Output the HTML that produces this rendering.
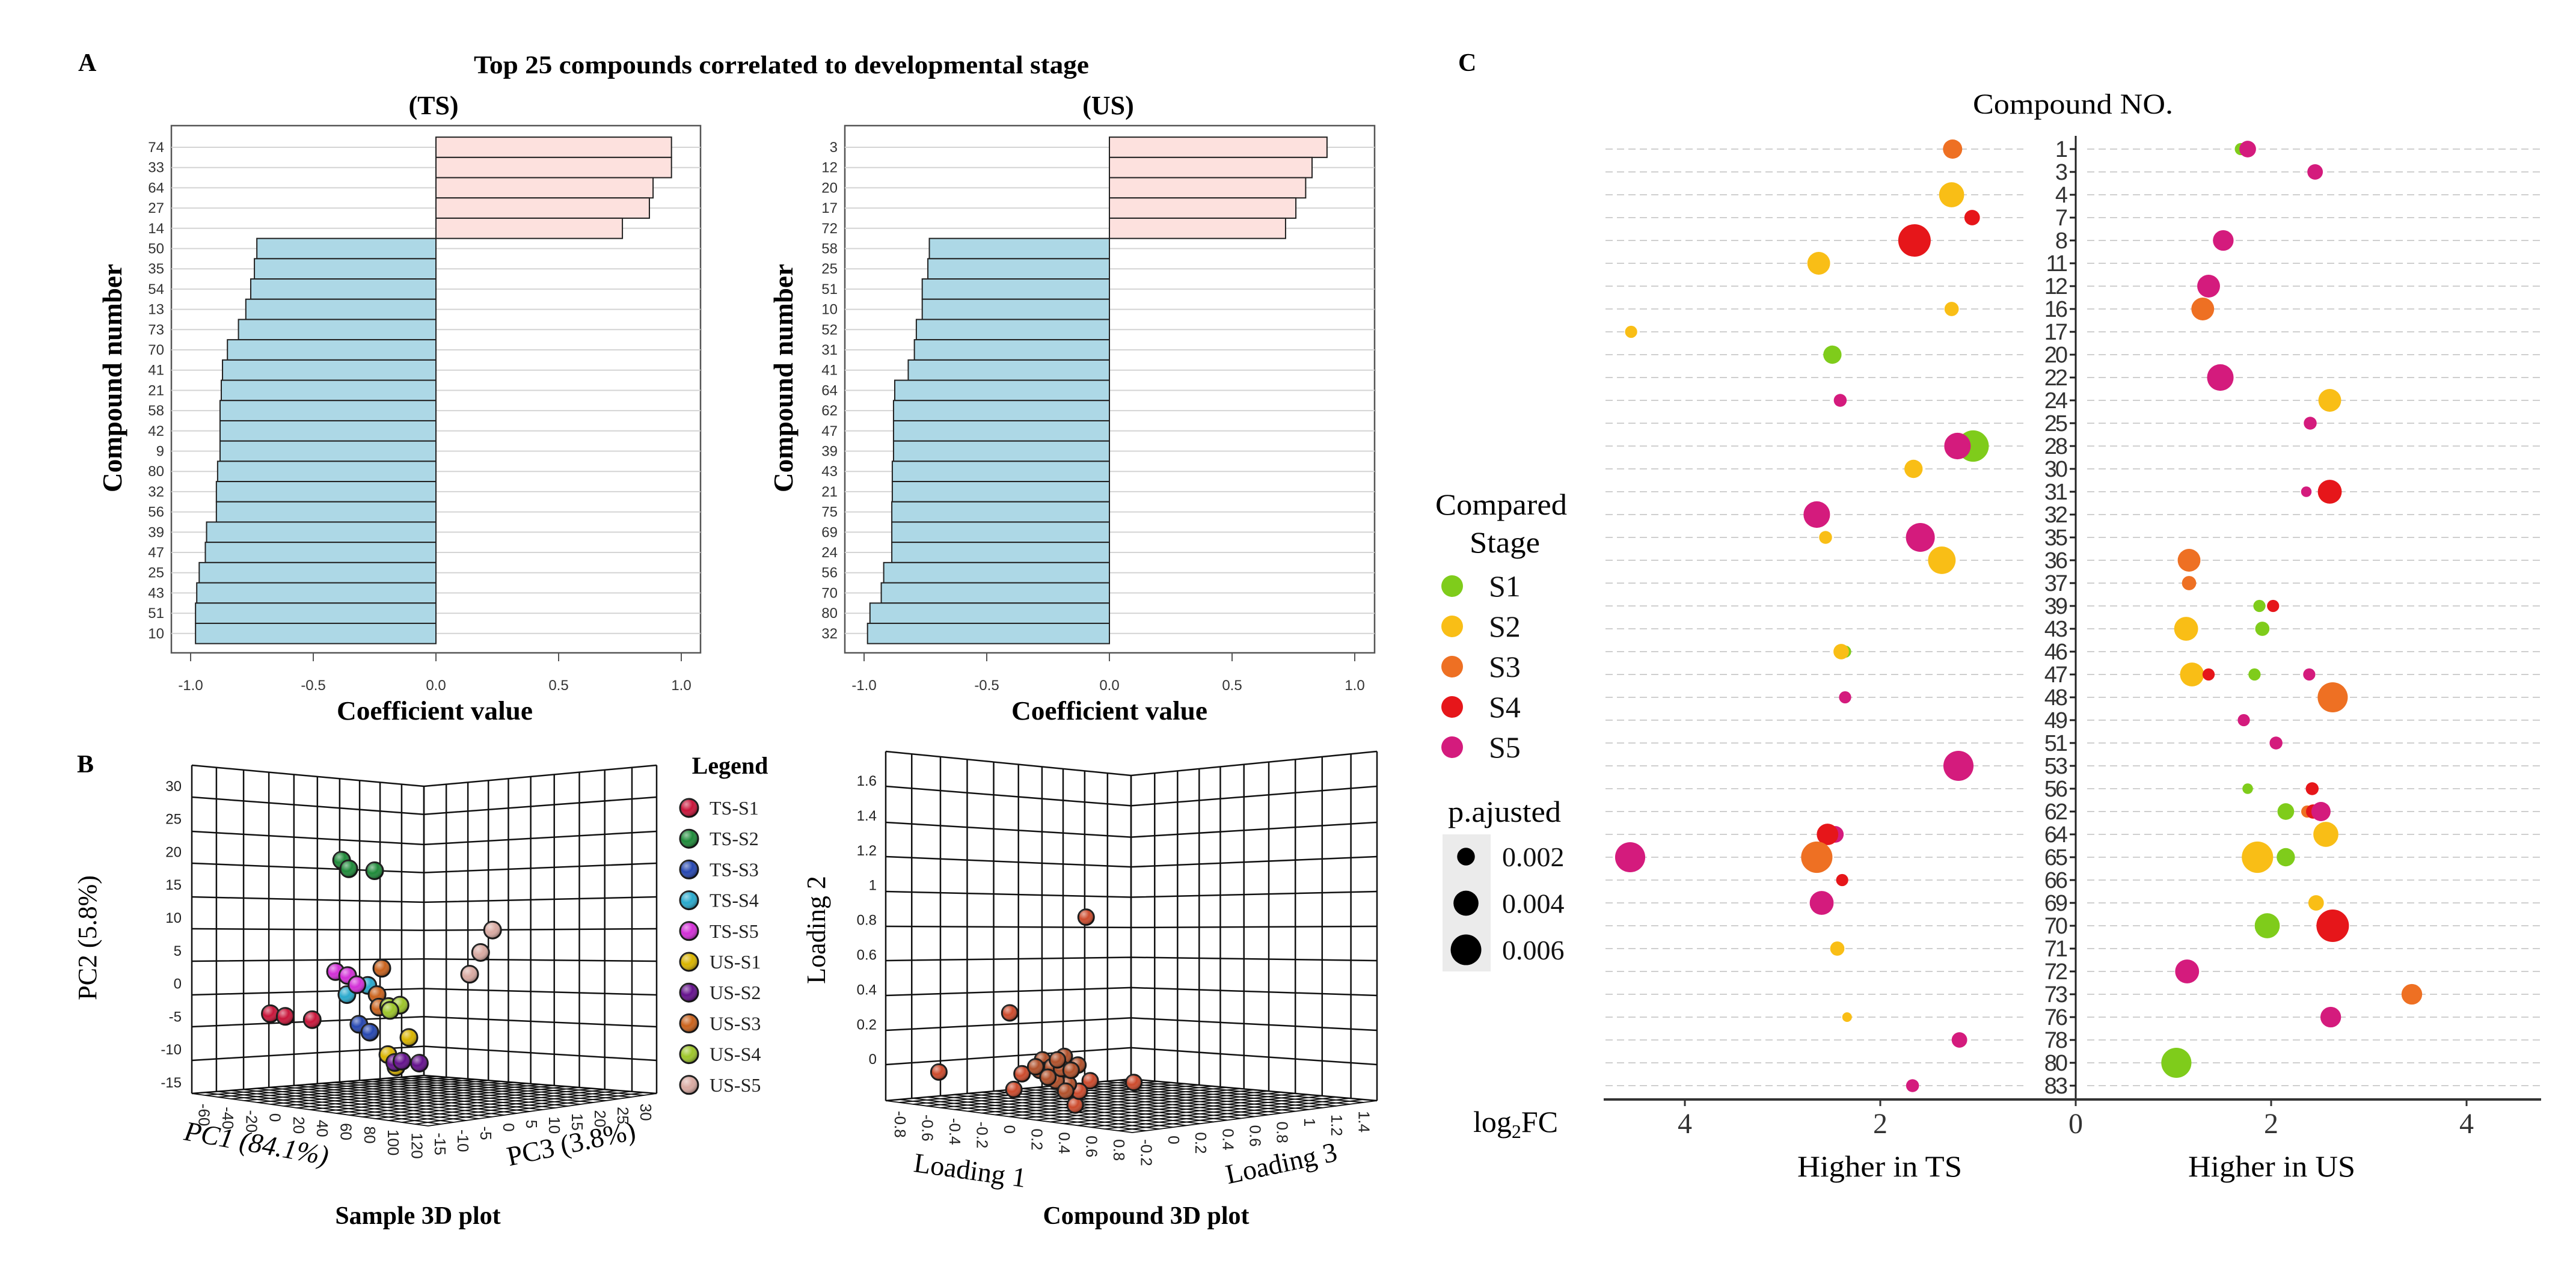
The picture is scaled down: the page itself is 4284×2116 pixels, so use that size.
<!DOCTYPE html>
<html><head><meta charset="utf-8"><style>
html,body{margin:0;padding:0;background:#fff;}
svg{display:block;}
.serif{font-family:"Liberation Serif",serif;}
.sans{font-family:"Liberation Sans",sans-serif;}
</style></head><body>
<svg id="fig" xmlns="http://www.w3.org/2000/svg" width="4284" height="2116" viewBox="0 0 4284 2116">
<defs>
<radialGradient id="shine" cx="0.35" cy="0.3" r="0.7">
<stop offset="0" stop-color="#fff" stop-opacity="0.55"/>
<stop offset="0.5" stop-color="#fff" stop-opacity="0"/>
<stop offset="1" stop-color="#000" stop-opacity="0.35"/>
</radialGradient>
</defs>
<rect width="4284" height="2116" fill="#fff"/>
<text x="130" y="118" class="serif" font-size="42" font-weight="bold">A</text>
<text x="788" y="122" class="serif" font-size="42" font-weight="bold" textLength="1023" lengthAdjust="spacingAndGlyphs">Top 25 compounds correlated to developmental stage</text>
<text x="721" y="190" class="serif" font-size="44" font-weight="bold" text-anchor="middle">(TS)</text>
<text x="1843" y="190" class="serif" font-size="44" font-weight="bold" text-anchor="middle">(US)</text>
<text x="0" y="0" transform="translate(202,629) rotate(-90)" class="serif" font-size="46" font-weight="bold" text-anchor="middle" textLength="380" lengthAdjust="spacingAndGlyphs">Compound number</text>
<text x="0" y="0" transform="translate(1318,629) rotate(-90)" class="serif" font-size="46" font-weight="bold" text-anchor="middle" textLength="380" lengthAdjust="spacingAndGlyphs">Compound number</text>
<text x="723" y="1197" class="serif" font-size="44" font-weight="bold" text-anchor="middle" textLength="326" lengthAdjust="spacingAndGlyphs">Coefficient value</text>
<text x="1845" y="1197" class="serif" font-size="44" font-weight="bold" text-anchor="middle" textLength="326" lengthAdjust="spacingAndGlyphs">Coefficient value</text>

<text x="128" y="1285" class="serif" font-size="42" font-weight="bold">B</text>
<text x="1214" y="1287" class="serif" font-size="40" font-weight="bold" text-anchor="middle">Legend</text>
<text x="0" y="0" transform="translate(424,1917) rotate(10)" class="serif" font-size="46" font-style="italic" text-anchor="middle">PC1 (84.1%)</text>
<text x="0" y="0" transform="translate(953,1917) rotate(-12)" class="serif" font-size="46" text-anchor="middle">PC3 (3.8%)</text>
<text x="0" y="0" transform="translate(160,1560) rotate(-90)" class="serif" font-size="44" text-anchor="middle">PC2 (5.8%)</text>
<text x="695" y="2036" class="serif" font-size="42" font-weight="bold" text-anchor="middle">Sample 3D plot</text>
<text x="0" y="0" transform="translate(1372,1547) rotate(-90)" class="serif" font-size="44" text-anchor="middle">Loading 2</text>
<text x="0" y="0" transform="translate(1611,1962) rotate(8)" class="serif" font-size="46" text-anchor="middle">Loading 1</text>
<text x="0" y="0" transform="translate(2134,1950) rotate(-12)" class="serif" font-size="46" text-anchor="middle">Loading 3</text>
<text x="1906" y="2036" class="serif" font-size="42" font-weight="bold" text-anchor="middle">Compound 3D plot</text>

<text x="2425" y="118" class="serif" font-size="42" font-weight="bold">C</text>
<text x="3281" y="189" class="serif" font-size="48" textLength="333" lengthAdjust="spacingAndGlyphs">Compound NO.</text>
<text x="2387" y="856" class="serif" font-size="50" textLength="219" lengthAdjust="spacingAndGlyphs">Compared</text>
<text x="2444" y="919" class="serif" font-size="50" textLength="117" lengthAdjust="spacingAndGlyphs">Stage</text>
<text x="2408" y="1367" class="serif" font-size="50" textLength="188" lengthAdjust="spacingAndGlyphs">p.ajusted</text>
<rect x="2399" y="1388" width="80" height="228" fill="#ebebeb"/>
<text x="2450" y="1883" class="serif" font-size="50">log<tspan font-size="32" dy="10">2</tspan><tspan dy="-10">FC</tspan></text>
<text x="3126" y="1957" class="serif" font-size="50" text-anchor="middle" textLength="274" lengthAdjust="spacingAndGlyphs">Higher in TS</text>
<text x="3778" y="1957" class="serif" font-size="50" text-anchor="middle" textLength="278" lengthAdjust="spacingAndGlyphs">Higher in US</text>
<g id="gA"></g>
<g id="gB"></g>
<g id="gC"></g>
</svg>
<script>
// ---------- Panel A data ----------
const tsCats=[74,33,64,27,14,50,35,54,13,73,70,41,21,58,42,9,80,32,56,39,47,25,43,51,10];
const tsVals=[0.96,0.96,0.885,0.87,0.76,-0.73,-0.74,-0.755,-0.775,-0.805,-0.85,-0.87,-0.875,-0.88,-0.88,-0.88,-0.89,-0.895,-0.895,-0.935,-0.94,-0.965,-0.975,-0.98,-0.98];
const usCats=[3,12,20,17,72,58,25,51,10,52,31,41,64,62,47,39,43,21,75,69,24,56,70,80,32];
const usVals=[0.887,0.826,0.80,0.76,0.718,-0.734,-0.74,-0.763,-0.763,-0.787,-0.795,-0.82,-0.875,-0.88,-0.88,-0.88,-0.885,-0.885,-0.887,-0.887,-0.887,-0.92,-0.93,-0.976,-0.986];
const coefTicks=[-1,-0.5,0,0.5,1];
const coefTickLabels=['-1.0','-0.5','0.0','0.5','1.0'];

// ---------- Panel B data ----------
const sampleGroups=['TS-S1','TS-S2','TS-S3','TS-S4','TS-S5','US-S1','US-S2','US-S3','US-S4','US-S5'];
const samplePc1=[[0.9,12.5,33.4],[56.2,61.8,81.8],[69.6,78.1],[60.3,76.5],[51.5,60.9,68.1],[108.4,92.1,98.4],[97.4,103.0,116.5],[87.4,83.7,85.2],[92.7,101.5,93.7],[173.3,164.0,155.5]];
const samplePc2=[[-2.9,-3.3,-3.8],[20.4,19.1,18.8],[-4.5,-5.7],[0.0,1.4],[3.5,2.9,1.5],[-6.5,-9.1,-11.0],[-10.3,-10.1,-10.4],[4.0,0.0,-1.9],[-1.8,-1.6,-2.4],[9.8,6.4,3.1]];
const pc2Ticks=[30,25,20,15,10,5,0,-5,-10,-15];
const pc1Ticks=[-60,-40,-20,0,20,40,60,80,100,120];
const pc3Ticks=[-15,-10,-5,0,5,10,15,20,25,30];
const loading1=[0.67,0.11,-0.41,0.20,0.14,1.02,0.59,0.70,0.62,0.61,0.51,0.35,0.37,0.48,0.54,0.45,0.52,0.33,0.42,0.49,0.56,0.46,0.39,0.30];
const loading2=[0.83,0.28,-0.06,-0.07,-0.16,-0.12,-0.25,-0.11,-0.17,-0.02,0.03,0.01,-0.05,-0.08,-0.13,-0.11,-0.17,-0.05,-0.03,-0.04,-0.05,0.01,-0.09,-0.03];
const loading2Ticks=['1.6','1.4','1.2','1','0.8','0.6','0.4','0.2','0'];
const loading1Ticks=['-0.8','-0.6','-0.4','-0.2','0','0.2','0.4','0.6','0.8'];
const loading3Ticks=['-0.2','0','0.2','0.4','0.6','0.8','1','1.2','1.4'];

// ---------- Panel C data ----------
const cRows=[1,3,4,7,8,11,12,16,17,20,22,24,25,28,30,31,32,35,36,37,39,43,46,47,48,49,51,53,56,62,64,65,66,69,70,71,72,73,76,78,80,83];
const ptCompound=[1,1,1,3,4,7,8,8,11,12,16,16,17,20,22,24,24,25,28,28,30,31,31,32,35,35,36,36,37,39,39,43,43,46,46,47,47,47,47,48,48,49,51,53,56,56,62,62,62,62,64,64,64,65,65,65,65,66,69,69,70,70,71,72,73,76,76,78,80,83];
const ptFC=[-1.26,1.69,1.76,2.45,-1.27,-1.06,-1.65,1.51,-2.63,1.36,-1.27,1.30,-4.55,-2.49,1.48,-2.41,2.60,2.40,-1.05,-1.21,-1.66,2.36,2.60,-2.65,-2.56,-1.59,-1.37,1.16,1.16,1.88,2.02,1.13,1.91,-2.36,-2.40,1.19,1.36,1.83,2.39,-2.36,2.63,1.72,2.05,-1.20,1.76,2.42,2.15,2.37,2.43,2.51,-2.46,-2.54,2.56,-4.56,-2.65,1.86,2.15,-2.39,-2.60,2.46,1.96,2.63,-2.44,1.14,3.44,-2.34,2.61,-1.19,1.03,-1.67];
const ptStage=[3,1,5,5,2,4,4,5,2,5,2,3,2,1,5,5,2,5,1,5,2,5,4,5,2,5,2,3,3,1,4,2,1,1,2,2,4,1,5,5,3,5,5,5,1,4,1,3,4,5,5,4,2,5,3,2,1,4,5,2,1,4,2,5,3,2,5,5,1,5];
const ptP=[.002,.0008,.0015,.0013,.0034,.0013,.0057,.0023,.0028,.0028,.0011,.0028,.0008,.0018,.0038,.0009,.0028,.0009,.0053,.0038,.0018,.0006,.0031,.0038,.0009,.0045,.0041,.0028,.0011,.0008,.0008,.0031,.0011,.0008,.0013,.0031,.0008,.0008,.0008,.0008,.0049,.0008,.0009,.0049,.0006,.0009,.0015,.0008,.0011,.002,.0015,.0025,.0034,.0049,.0053,.0053,.0018,.0008,.0031,.0013,.0034,.0057,.0011,.0031,.0023,.0005,.0023,.0013,.0049,.0009];
const stageNames=['S1','S2','S3','S4','S5'];
const sizeLegendP=[0.002,0.004,0.006];
const fcTicks=[-4,-2,0,2,4];

const NS='http://www.w3.org/2000/svg';
function mk(tag,attrs,parent){const e=document.createElementNS(NS,tag);for(const k in attrs)e.setAttribute(k,attrs[k]);parent.appendChild(e);return e;}

// ---------- Panel A ----------
function barChart(gid,cats,vals,box,zeroX,unit,prefix){
  const g=document.getElementById('gA');
  const row0=245, step=33.7;
  const xs=v=>zeroX+v*unit;
  const ys=i=>row0+i*step;
  const frame=mk('rect',{x:box[0],y:box[1],width:box[2]-box[0],height:box[3]-box[1],fill:'#fff',stroke:'#555','stroke-width':2.5},g);
  
  
  cats.forEach((c,i)=>{
    const gl=mk('line',{x1:box[0],x2:box[2],y1:ys(i),y2:ys(i),stroke:'#d4d4d4','stroke-width':2},g);
    
    
  });
  cats.forEach((c,i)=>{
    const v=vals[i];
    const x1=Math.min(xs(0),xs(v)), w=Math.abs(xs(v)-xs(0));
    const b=mk('rect',{x:x1,y:ys(i)-step/2,width:w,height:step,fill:v>0?'#fde1de':'#add8e6',stroke:'#222','stroke-width':2},g);
    
    
    const t=mk('text',{x:box[0]-12,y:ys(i)+8,'text-anchor':'end','font-size':24,fill:'#333',class:'sans'},g);
    t.textContent=c;
    
    
  });
  coefTicks.forEach((v,i)=>{
    const tk=mk('line',{x1:xs(v),x2:xs(v),y1:box[3],y2:box[3]+14,stroke:'#555','stroke-width':2},g);
    
    
    const t=mk('text',{x:xs(v),y:box[3]+62,'text-anchor':'middle','font-size':24,fill:'#333',class:'sans'},g);
    t.textContent=coefTickLabels[i];
    
    
  });
}
barChart('gA',tsCats,tsVals,[285,209,1165,1086],725,408,'ts');
barChart('gA',usCats,usVals,[1405,209,2286,1086],1845,408,'us');

// ---------- Panel B ----------
const gB=document.getElementById('gB');
const vFracs=[0,.106,.223,.332,.44,.541,.637,.723,.811,.904,1];
function draw3D(P,prefix){
  const lerp=(a,b,t)=>a+(b-a)*t;
  P.hLines.forEach(yE=>{
    const yC=P.topC+(yE-P.topE)*(P.botC-P.topC)/(P.botE-P.topE);
    const l=mk('polyline',{points:`${P.L},${yE} ${P.C},${yC} ${P.R},${yE}`,fill:'none',stroke:'#111','stroke-width':2.5},gB);
    
    
  });
  vFracs.forEach(t=>{
    const yt=lerp(P.topE,P.topC,t), yb=lerp(P.botE,P.botC,t);
    [P.L+t*(P.C-P.L), P.R-t*(P.R-P.C)].forEach(x=>{
      const l=mk('line',{x1:x,x2:x,y1:yt,y2:yb,stroke:'#111','stroke-width':2.5},gB);
      
      
    });
  });
  const back=[P.C,P.botC], left=[P.L,P.botE], front=[P.fx,P.fy], right=[P.R,P.botE];
  const N=18;
  for(let i=0;i<=N;i++){
    const s=i/N;
    const a=[lerp(back[0],left[0],s),lerp(back[1],left[1],s)], b=[lerp(right[0],front[0],s),lerp(right[1],front[1],s)];
    const c=[lerp(back[0],right[0],s),lerp(back[1],right[1],s)], d=[lerp(left[0],front[0],s),lerp(left[1],front[1],s)];
    const l1=mk('line',{x1:a[0],y1:a[1],x2:b[0],y2:b[1],stroke:'#111','stroke-width':1.8},gB);
    
    
    const l2=mk('line',{x1:c[0],y1:c[1],x2:d[0],y2:d[1],stroke:'#111','stroke-width':1.8},gB);
    
    
  }
  [[P.ticksA,left,front],[P.ticksB,front,right]].forEach(([ticks,p0,p1])=>{
    ticks.forEach((lab,i)=>{
      const s=(i+0.5)/ticks.length;
      const x=lerp(p0[0],p1[0],s), y=lerp(p0[1],p1[1],s)+14;
      const t=mk('text',{x:0,y:0,transform:`translate(${x-8},${y}) rotate(90)`,'font-size':26,fill:'#222',class:'sans'},gB);
      t.textContent=lab;
      
      
    });
  });
}
function ball(x,y,r,color,name){
  const c=mk('circle',{cx:x,cy:y,r:r,fill:color,stroke:'#1a1a1a','stroke-width':3},gB);
  
  
  const h=mk('circle',{cx:x,cy:y,r:r,fill:'url(#shine)'},gB);
  
  
}
draw3D({L:319,C:705,R:1092,topE:1273,topC:1308,botE:1819,botC:1789,fx:712,fy:1873,
  hLines:[1273,1326,1383,1436,1492,1545,1599,1655,1708,1764,1819],
  ticksA:pc1Ticks.map(String),ticksB:pc3Ticks.map(String)},'sample');
const pc2Y=v=>1819-(v+15)*10.96, pc1X=v=>319+(v+60)*2.144;
pc2Ticks.forEach(v=>{
  const t=mk('text',{x:302,y:pc2Y(v)-10,'text-anchor':'end','font-size':24,fill:'#222',class:'sans'},gB);
  t.textContent=v;
  
  
});
const groupColors=['#c8153a','#1f8a3a','#2647b0','#29a9cc','#d22fd6','#d9b400','#64118c','#c9621c','#9dc52a','#d9aaa2'];
sampleGroups.forEach((gname,gi)=>{
  samplePc1[gi].forEach((v,j)=>ball(pc1X(v),pc2Y(samplePc2[gi][j]),14,groupColors[gi],'sample-point-'+gname.toLowerCase()));
  const ly=1344+gi*51.2;
  ball(1146,ly,15,groupColors[gi],'legend-marker-'+gname.toLowerCase());
  const t=mk('text',{x:1180,y:ly+11,'font-size':32,fill:'#222',class:'serif'},gB);
  t.textContent=gname;
  
  
});
draw3D({L:1473,C:1881,R:2290,topE:1250,topC:1290,botE:1831,botC:1795,fx:1883,fy:1884,
  hLines:[1250,1308,1368,1425,1483,1541,1598,1656,1714,1771,1831],
  ticksA:loading1Ticks,ticksB:loading3Ticks},'compound');
const l2Y=v=>1766-v*289.5, l1X=v=>1473+(v+0.8)*226.7;
loading2Ticks.forEach((lab,i)=>{
  const t=mk('text',{x:1458,y:1308+i*57.9-1,'text-anchor':'end','font-size':24,fill:'#222',class:'sans'},gB);
  t.textContent=lab;
  
  
});
loading1.forEach((v,i)=>{
  const dark=(i>=9)?'#b0502a':'#cc4a2c';
  ball(l1X(v),l2Y(loading2[i]),13,dark,'compound-point');
});

// ---------- Panel C ----------
const gC=document.getElementById('gC');
const zeroX=3452, fcUnit=162.5, cRow0=248, cStep=38;
const fcX=v=>zeroX+v*fcUnit;
const rowY=c=>cRow0+cRows.indexOf(c)*cStep;
const rOf=p=>358*Math.sqrt(p);
const stageColors=['#7fcc1b','#f9be16','#ee7023','#e6161a','#d41b7d'];
cRows.forEach(c=>{
  const y=rowY(c);
  const a=mk('line',{x1:2670,x2:3365,y1:y,y2:y,stroke:'#cfcfcf','stroke-width':2,'stroke-dasharray':'12 7'},gC);
  
  
  const b=mk('line',{x1:3471,x2:4226,y1:y,y2:y,stroke:'#cfcfcf','stroke-width':2,'stroke-dasharray':'12 7'},gC);
  
  
  const t=mk('text',{x:3436,y:y+13,'text-anchor':'end','font-size':38,fill:'#333',class:'sans','letter-spacing':'-3'},gC);
  t.textContent=c;
  
  
  const tk=mk('line',{x1:3442,x2:zeroX,y1:y,y2:y,stroke:'#222','stroke-width':3},gC);
  
  
});
const ax=mk('line',{x1:zeroX,x2:zeroX,y1:226,y2:1829,stroke:'#222','stroke-width':3},gC);


const xa=mk('line',{x1:2667,x2:4226,y1:1829,y2:1829,stroke:'#333','stroke-width':4},gC);


fcTicks.forEach(v=>{
  const tk=mk('line',{x1:fcX(v),x2:fcX(v),y1:1829,y2:1840,stroke:'#333','stroke-width':3},gC);
  
  
  const t=mk('text',{x:fcX(v),y:1885,'text-anchor':'middle','font-size':48,fill:'#333',class:'serif'},gC);
  t.textContent=Math.abs(v);
  
  
});
ptCompound.forEach((c,i)=>{
  const d=mk('circle',{cx:fcX(ptFC[i]),cy:rowY(c),r:rOf(ptP[i]),fill:stageColors[ptStage[i]-1]},gC);
  
  
});
stageNames.forEach((s,i)=>{
  const y=975+i*67;
  const d=mk('circle',{cx:2415,cy:y,r:18,fill:stageColors[i]},gC);
  
  
  const t=mk('text',{x:2476,y:y+17,'font-size':50,fill:'#111',class:'serif'},gC);
  t.textContent=s;
  
  
});
sizeLegendP.forEach((p,i)=>{
  const y=1425+i*77.5;
  const d=mk('circle',{cx:2438,cy:y,r:rOf(p)*0.92,fill:'#000'},gC);
  
  
  const t=mk('text',{x:2498,y:y+16,'font-size':46,fill:'#111',class:'serif'},gC);
  t.textContent=p.toFixed(3);
  
  
});
</script>
</body></html>
